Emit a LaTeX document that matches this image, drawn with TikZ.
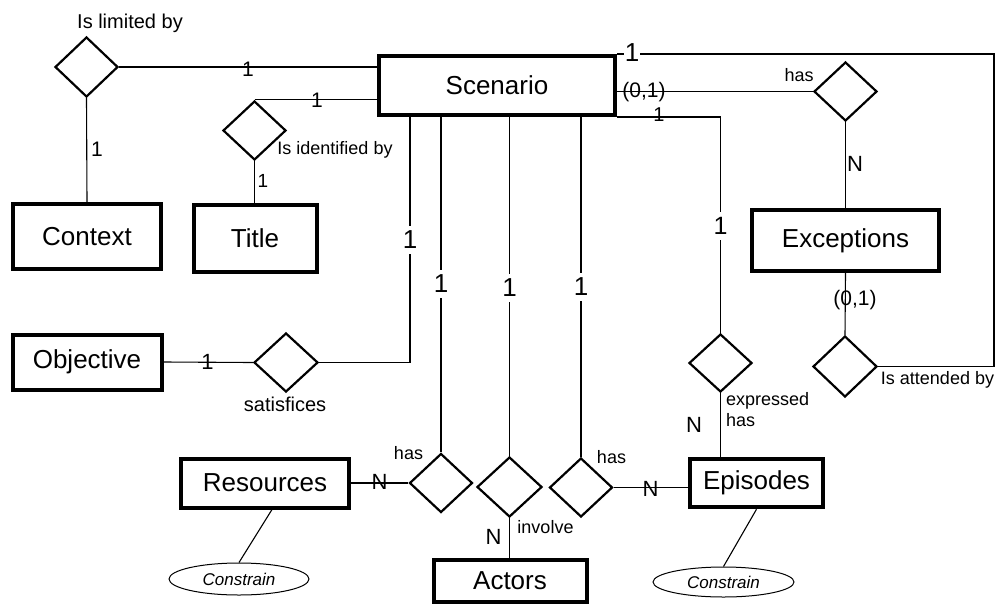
\documentclass[tikz,border=0pt]{standalone}
\usepackage{fontspec}
\setmainfont{Liberation Sans}
\usetikzlibrary{shapes.geometric}
\newcommand{\fsz}[1]{\fontsize{#1}{#1}\selectfont}

\begin{document}
\begin{tikzpicture}[x=1pt, y=-1pt,
		entity/.style={draw, line width=4pt, inner sep=0pt, font=\fsz{26}},
		rel/.style={draw, diamond, line width=2.2pt, inner sep=0pt, minimum width=63, minimum height=59},
		attr/.style={draw, ellipse, line width=1pt, inner sep=0pt, font=\fsz{17}\itshape},
		link/.style={line width=1.1pt},
		card/.style={inner sep=0pt, font=\fsz{22}},
		cut/.style={fill=white, inner xsep=1pt, inner ysep=5pt, font=\fsz{26}},
		tag/.style={inner sep=0pt, font=\fsz{18}}]
			%%%%% START %%%%%
			
			\useasboundingbox (0, 0) rectangle (995, 605);
			
			\node[entity, minimum width=236, minimum height=59] (scenario) at (497, 85.5) {Scenario};
			\node[entity, minimum width=148, minimum height=65] (context) at (87, 236.5) {Context};
			\node[entity, minimum width=123, minimum height=67] (title) at (255, 238) {Title};
			\node[entity, minimum width=149, minimum height=55] (objective) at (87, 362) {Objective};
			\node[entity, minimum width=168, minimum height=49] (resources) at (265, 483) {Resources};
			\node[entity, minimum width=153, minimum height=42] (actors) at (510, 581) {Actors};
			\node[entity, minimum width=133, minimum height=48.5] (episodes) at (756.5, 483) {Episodes};
			\node[entity, minimum width=187, minimum height=61] (exceptions) at (845.5, 240.5) {Exceptions};
			
			\node[rel, minimum height=60] (limited) at (86.5, 67) {};
			\node[rel] (identified) at (254.5, 130.5) {};
			\node[rel, minimum width=64] (satisfices) at (286, 362.5) {};
			\node[rel] (hasres) at (441, 483) {};
			\node[rel, minimum width=65, minimum height=60] (involve) at (509.5, 487) {};
			\node[rel] (hasepi) at (581, 487.5) {};
			\node[rel, minimum height=58] (expressed) at (720.5, 363) {};
			\node[rel] (hasexc) at (845.5, 91.5) {};
			\node[rel, minimum width=64, minimum height=61] (attended) at (845, 366.5) {};
			
			\node[attr, minimum width=140, minimum height=32] (rescons) at (239, 579) {Constrain};
			\node[attr, minimum width=141, minimum height=30] (epicons) at (723.5, 582) {Constrain};
			
			\coordinate (rim) at (994, 0);
			
			\draw[link] (limited.east) -- (limited.east -| scenario.west);
			\draw[link] (limited.south) -- (context.north);
			\draw[link] (identified.north) -- (identified.north -| scenario.west);
			\draw[link] (identified.south) -- (identified.south |- title.north);
			\draw[link] (scenario.south west) ++(33, 0) |- (satisfices.east);
			\draw[link] (objective.east) -- (satisfices.west);
			\draw[link] (hasres.north |- scenario.south) -- (hasres.north);
			\draw[link] (resources.east) -- (hasres.west);
			\draw[link] (resources.south) ++(7, 0) -- (rescons.north);
			\draw[link] (involve.north |- scenario.south) -- (involve.north);
			\draw[link] (involve.south) -- (involve.south |- actors.north);
			\draw[link] (hasepi.north |- scenario.south) -- (hasepi.north);
			\draw[link] (hasepi.east) -- (hasepi.east -| episodes.west);
			\draw[link] (episodes.south) -- (epicons.north);
			\draw[link] (scenario.south east) -| (expressed.north);
			\draw[link] (expressed.south) -- (expressed.south |- episodes.north);
			\draw[link] (hasexc.west -| scenario.east) -- (hasexc.west);
			\draw[link] (hasexc.south) -- (exceptions.north);
			\draw[link] (exceptions.south) -- (attended.north);
			\draw[link] (scenario.north east) -- (rim |- scenario.north east) |- (attended.east);
			
			\node[card, font=\fsz{21}] (c1) at (248, 69.5) {1};
			\node[card, font=\fsz{21}] (c2) at (317, 100.5) {1};
			\node[card, font=\fsz{21}] (c3) at (97, 149) {1};
			\node[card, font=\fsz{19}] (c4) at (263, 181) {1};
			\node[card] (c5) at (207.5, 361.5) {1};
			\node[card, font=\fsz{21}] (c6) at (644, 92) {(0,1)};
			\node[card, font=\fsz{20}] (c7) at (659, 115) {1};
			\node[card, font=\fsz{21}] (c8) at (855, 300) {(0,1)};
			\node[card] (n1) at (855, 163.5) {N};
			\node[card] (n2) at (379.5, 481.5) {N};
			\node[card] (n3) at (650.5, 488.5) {N};
			\node[card] (n4) at (694, 425) {N};
			\node[card] (n5) at (493.5, 536.5) {N};
			
			\node[cut] (v1) at (410, 240) {1};
			\node[cut] (v2) at (441, 284) {1};
			\node[cut] (v3) at (509.5, 288) {1};
			\node[cut] (v4) at (581, 287) {1};
			\node[cut, font=\fsz{25}] (v5) at (720.5, 226) {1};
			\node[cut, inner ysep=0pt] (v6) at (632, 53) {1};
			
			\node[tag, font=\fsz{20}] (limitedtxt) at (130, 23) {Is limited by};
			\node[tag] (identifiedtxt) at (335, 150) {Is identified by};
			\node[tag, font=\fsz{20}] (satisficestxt) at (285, 404) {satisfices};
			\node[tag] (hasrestxt) at (408.5, 453) {has};
			\node[tag] (involvetxt) at (545.5, 527) {involve};
			\node[tag] (hasepitxt) at (611.5, 457) {has};
			\node[tag, font=\fontsize{18}{21}\selectfont, align=left, anchor=north west] (expressedtxt) at (726, 392) {expressed\\has};
			\node[tag] (hasexctxt) at (799, 75) {has};
			\node[tag] (attendedtxt) at (937.5, 380) {Is attended by};
			
			%%%%% END %%%%%
		\end{tikzpicture}
\end{document}
